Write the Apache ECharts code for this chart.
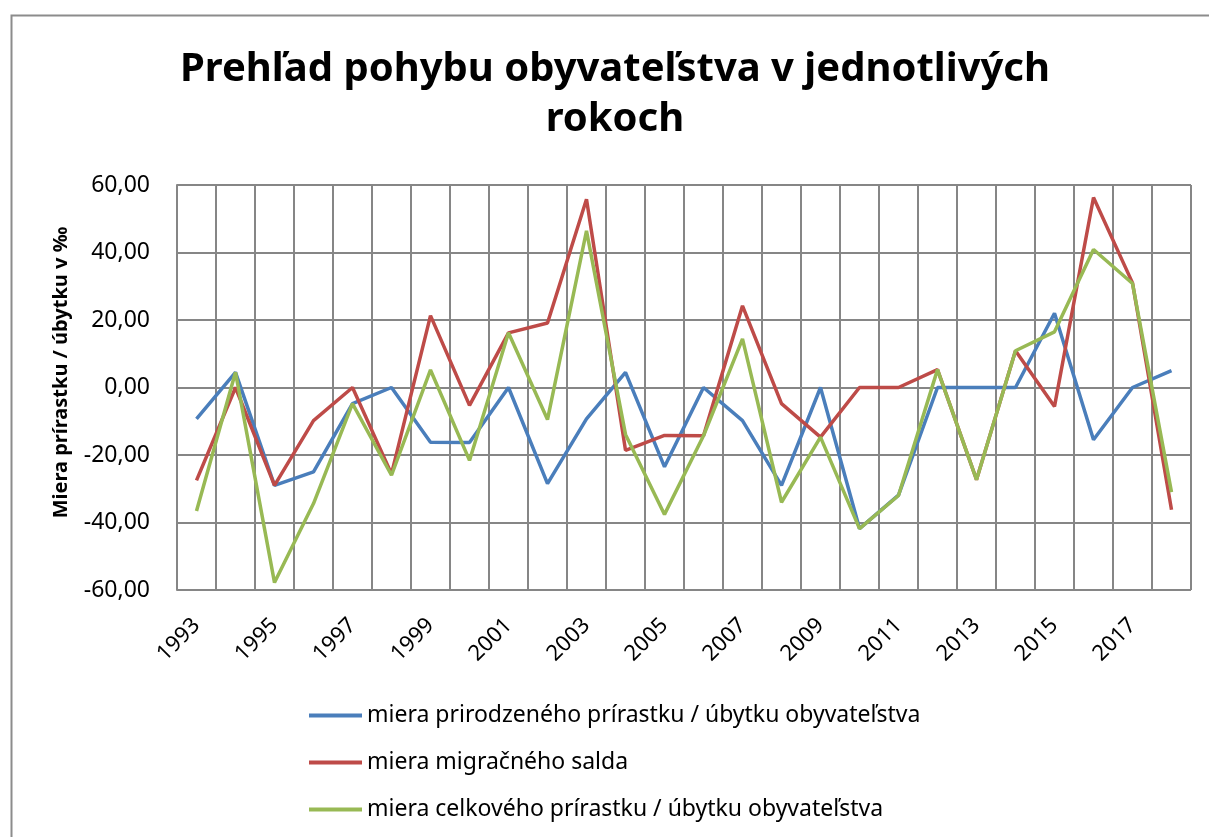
<!DOCTYPE html>
<html>
<head>
<meta charset="utf-8">
<script src="https://cdn.jsdelivr.net/npm/echarts@6/dist/echarts.min.js"></script>
<style>
  html, body { margin: 0; padding: 0; background: #fff; }
  #main { width: 1209px; height: 837px; }
</style>
</head>
<body>
<div id="main"></div>
<script>
var years = ['1993', '1994', '1995', '1996', '1997', '1998', '1999', '2000', '2001', '2002',
    '2003', '2004', '2005', '2006', '2007', '2008', '2009', '2010', '2011', '2012',
    '2013', '2014', '2015', '2016', '2017', '2018'];

// miera prirodzeného prírastku / úbytku
var prirodzeny = [-9.3, 4.5, -29.0, -25.0, -4.8, 0.0, -16.2, -16.3, 0.0, -28.5,
    -9.3, 4.5, -23.5, 0.0, -9.8, -29.0, 0.0, -41.8, -31.9, 0.0,
    0.0, 0.0, 22.0, -15.5, 0.0, 5.0];

// miera migračného salda
var migracne = [-27.5, 0.0, -29.0, -9.8, 0.0, -25.6, 21.3, -5.3, 16.2, 19.1,
    55.8, -18.6, -14.2, -14.3, 24.2, -4.8, -14.7, 0.0, 0.0, 5.3,
    -27.3, 10.9, -5.6, 56.3, 31.0, -36.2];

// miera celkového prírastku / úbytku
var celkovy = [-36.6, 4.5, -57.8, -34.4, -4.8, -26.0, 5.2, -21.6, 16.2, -9.5,
    46.4, -13.9, -37.6, -14.3, 14.4, -34.0, -14.7, -41.8, -32.0, 5.3,
    -27.3, 10.9, 16.5, 40.9, 30.8, -31.0];

var seriesNames = [
    'miera prirodzeného prírastku / úbytku obyvateľstva',
    'miera migračného salda',
    'miera celkového prírastku / úbytku obyvateľstva'
];

var chart = echarts.init(document.getElementById('main'));
var font = 'Noto Sans';
var gridColor = '#868686';

chart.setOption({
    animation: false,
    backgroundColor: '#fff',
    color: ['#4A7EBB', '#BE4B48', '#98B954'],
    graphic: [{
        type: 'rect',
        left: 9,
        top: 13,
        shape: { width: 1400, height: 1000 },
        style: { fill: 'none', stroke: '#8c8c8c', lineWidth: 2 },
        silent: true
    }],
    title: {
        text: 'Prehľad pohybu obyvateľstva v jednotlivých\nrokoch',
        left: 610,
        textAlign: 'center',
        top: 40,
        textStyle: {
            fontFamily: font,
            fontWeight: 'bold',
            fontSize: 40,
            lineHeight: 50,
            color: '#000'
        }
    },
    legend: {
        orient: 'vertical',
        left: 304,
        top: 699,
        itemWidth: 53,
        itemHeight: 4,
        itemGap: 24,
        icon: 'rect',
        textStyle: { fontFamily: font, fontSize: 23, color: '#000' },
        data: seriesNames
    },
    grid: {
        left: 177,
        right: 18,
        top: 185,
        bottom: 247,
        containLabel: false
    },
    xAxis: {
        type: 'category',
        data: years,
        boundaryGap: true,
        axisLine: { lineStyle: { color: gridColor, width: 2 } },
        axisTick: { show: false },
        splitLine: { show: true, interval: 0, lineStyle: { color: gridColor, width: 2 } },
        axisLabel: {
            interval: 1,
            rotate: 45,
            margin: 32,
            fontFamily: font,
            fontSize: 22,
            color: '#000'
        }
    },
    yAxis: {
        type: 'value',
        min: -60,
        max: 60,
        interval: 20,
        name: 'Miera prírastku / úbytku v ‰',
        nameLocation: 'middle',
        nameGap: 106,
        nameTextStyle: {
            fontFamily: font, fontWeight: 'bold', fontSize: 20, color: '#000',
            padding: [0, 0, 0, 30]
        },
        axisLine: { show: true, lineStyle: { color: gridColor, width: 2 } },
        axisTick: { show: false },
        splitLine: { lineStyle: { color: gridColor, width: 2 } },
        axisLabel: {
            margin: 27,
            fontFamily: font,
            fontSize: 23,
            color: '#000',
            formatter: function (v) { return v.toFixed(2).replace('.', ','); }
        }
    },
    series: [
        { name: seriesNames[0], type: 'line', data: prirodzeny, symbol: 'none', lineStyle: { width: 3.5 } },
        { name: seriesNames[1], type: 'line', data: migracne, symbol: 'none', lineStyle: { width: 3.5 } },
        { name: seriesNames[2], type: 'line', data: celkovy, symbol: 'none', lineStyle: { width: 3.5 } }
    ]
});
</script>
</body>
</html>
